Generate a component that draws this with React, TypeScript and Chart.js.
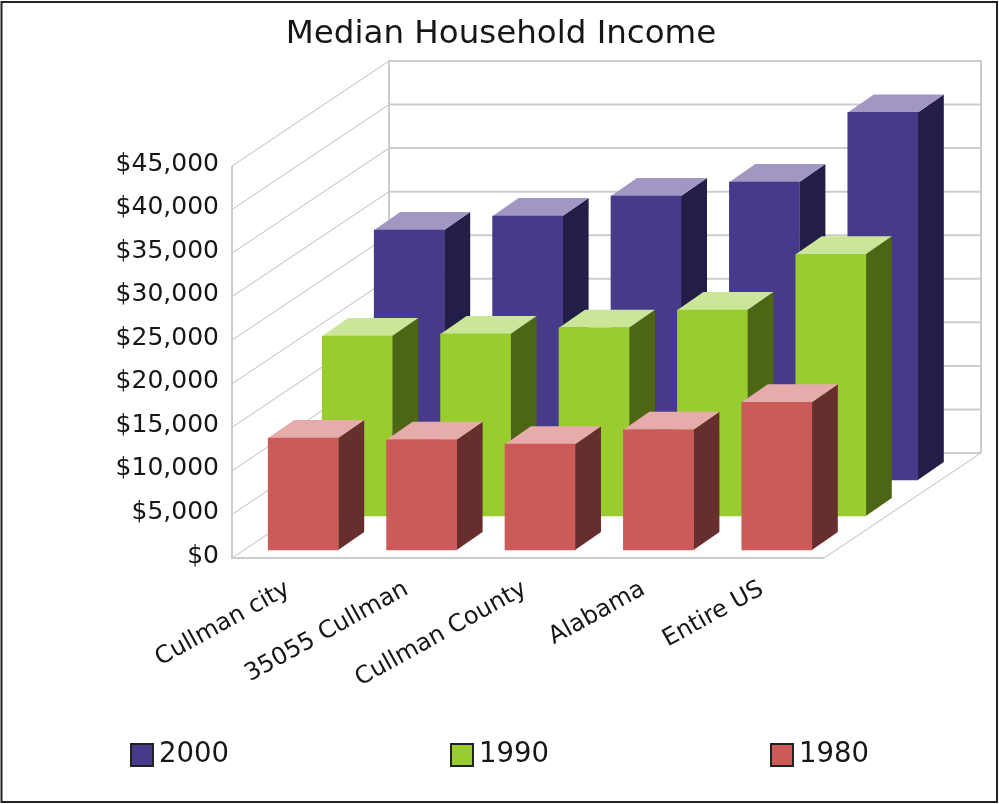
import React, { useEffect, useRef } from "react";
import { Chart, registerables } from "chart.js";

Chart.register(...registerables);

const categories = ["Cullman city", "35055 Cullman", "Cullman County", "Alabama", "Entire US"];
const series2000 = [28700, 30300, 32600, 34200, 42200];
const series1990 = [20650, 20900, 21600, 23650, 30050];
const series1980 = [12850, 12650, 12150, 13800, 16950];
const seriesLabels = ["2000", "1990", "1980"];

const FONT = "'DejaVu Sans', sans-serif";
const TEXT = "#161616";
const WALL = "#cccccc";

// style per series: front, side and top colours, depth shift of the row
const looks = [
  { front: "#483A8B", side: "#231E48", top: "#A197C2", dx: 118, dy: -78 },
  { front: "#99CC2E", side: "#4D6614", top: "#CCE699", dx: 66, dy: -42 },
  { front: "#CC5A58", side: "#662E2C", top: "#E6ACAC", dx: 12, dy: -8 },
];
const BAR_DX = 26;
const BAR_DY = -18;
const WALL_DX = 157;
const WALL_DY = -105;
const legendBoxX = [131, 451, 771];

const threeD = {
  id: "threeD",
  afterLayout(chart: any) {
    // the title is centred on the whole picture, not on the front plane
    chart.titleBlock.left = 0;
    chart.titleBlock.right = 1002;
  },
  beforeDraw(chart: any) {
    const { ctx, width, height } = chart;
    ctx.save();
    ctx.strokeStyle = "#222222";
    ctx.lineWidth = 2;
    ctx.strokeRect(1.5, 2, width - 3.5, height - 4);
    ctx.restore();
  },
  beforeDatasetsDraw(chart: any) {
    const { ctx, chartArea: a, scales } = chart;
    const y = scales.y;
    ctx.save();
    // grid lines follow the y scale
    y.ticks.forEach((t: any) => {
      const py = y.getPixelForValue(t.value);
      ctx.beginPath();
      ctx.strokeStyle = "#bdbdbd";
      ctx.lineWidth = 1;
      ctx.moveTo(a.left, py);
      ctx.lineTo(a.left + WALL_DX, py + WALL_DY);
      ctx.stroke();
      ctx.beginPath();
      ctx.strokeStyle = WALL;
      ctx.lineWidth = 2;
      ctx.moveTo(a.left + WALL_DX, py + WALL_DY);
      ctx.lineTo(a.right + WALL_DX, py + WALL_DY);
      ctx.stroke();
    });
    // floor diagonal on the right
    ctx.beginPath();
    ctx.strokeStyle = "#bdbdbd";
    ctx.lineWidth = 1;
    ctx.moveTo(a.right, a.bottom);
    ctx.lineTo(a.right + WALL_DX, a.bottom + WALL_DY);
    ctx.stroke();
    // walls outline
    ctx.strokeStyle = WALL;
    ctx.lineWidth = 2;
    ctx.beginPath();
    ctx.moveTo(a.left, a.top);
    ctx.lineTo(a.left, a.bottom);
    ctx.lineTo(a.right, a.bottom);
    ctx.stroke();
    ctx.beginPath();
    ctx.moveTo(a.left + WALL_DX, a.bottom + WALL_DY);
    ctx.lineTo(a.left + WALL_DX, a.top + WALL_DY);
    ctx.lineTo(a.right + WALL_DX, a.top + WALL_DY);
    ctx.lineTo(a.right + WALL_DX, a.bottom + WALL_DY);
    ctx.stroke();
    ctx.restore();
  },
  beforeDatasetDraw(chart: any, args: any) {
    const { ctx } = chart;
    const look = looks[args.index];
    ctx.save();
    ctx.translate(look.dx, look.dy);
    args.meta.data.forEach((bar: any) => {
      const l = bar.x - bar.width / 2;
      const r = bar.x + bar.width / 2;
      ctx.fillStyle = look.side;
      ctx.beginPath();
      ctx.moveTo(r, bar.base);
      ctx.lineTo(r + BAR_DX, bar.base + BAR_DY);
      ctx.lineTo(r + BAR_DX, bar.y + BAR_DY);
      ctx.lineTo(r, bar.y);
      ctx.closePath();
      ctx.fill();
      ctx.fillStyle = look.top;
      ctx.beginPath();
      ctx.moveTo(l, bar.y);
      ctx.lineTo(l + BAR_DX, bar.y + BAR_DY);
      ctx.lineTo(r + BAR_DX, bar.y + BAR_DY);
      ctx.lineTo(r, bar.y);
      ctx.closePath();
      ctx.fill();
    });
  },
  afterDatasetDraw(chart: any) {
    chart.ctx.restore();
  },
  afterDraw(chart: any) {
    const { ctx } = chart;
    ctx.save();
    ctx.font = `27.5px ${FONT}`;
    ctx.textBaseline = "middle";
    ctx.textAlign = "left";
    chart.data.datasets.forEach((d: any, i: number) => {
      const x = legendBoxX[i];
      ctx.fillStyle = d.backgroundColor;
      ctx.strokeStyle = "#222222";
      ctx.lineWidth = 2;
      ctx.fillRect(x, 744, 22, 22);
      ctx.strokeRect(x, 744, 22, 22);
      ctx.fillStyle = TEXT;
      ctx.fillText(d.label, x + 28, 755);
    });
    ctx.restore();
  },
};

export default function App() {
  const ref = useRef<HTMLCanvasElement>(null);
  useEffect(() => {
    const chart = new Chart(ref.current as HTMLCanvasElement, {
      type: "bar",
      data: {
        labels: categories,
        datasets: [series2000, series1990, series1980].map((values, i) => ({
          label: seriesLabels[i],
          data: values,
          backgroundColor: looks[i].front,
          borderWidth: 0,
          barThickness: 70,
          grouped: false,
          clip: false,
          order: 2 - i,
        })) as any,
      },
      options: {
        animation: false,
        responsive: false,
        events: [],
        layout: { padding: { left: 0, right: 175, top: 0, bottom: 0 } },
        plugins: {
          legend: { display: false },
          tooltip: { enabled: false },
          title: {
            display: true,
            text: "Median Household Income",
            color: TEXT,
            font: { family: FONT, size: 32.5, weight: "normal" },
            padding: { top: 15, bottom: 112 },
          },
        },
        scales: {
          x: {
            grid: { display: false, drawTicks: false },
            border: { display: false },
            afterFit: (s: any) => {
              s.height = 246;
            },
            ticks: {
              color: TEXT,
              font: { family: FONT, size: 24 },
              minRotation: 29,
              maxRotation: 29,
              autoSkip: false,
              padding: 17,
              labelOffset: -3,
            },
          },
          y: {
            min: 0,
            max: 45000,
            grid: { display: false, drawTicks: false },
            border: { display: false },
            afterFit: (s: any) => {
              s.width = 232;
            },
            ticks: {
              stepSize: 5000,
              color: TEXT,
              font: { family: FONT, size: 25 },
              padding: 13,
              labelOffset: -2,
              callback: (v: any) => "$" + Number(v).toLocaleString("en-US"),
            },
          },
        },
      },
      plugins: [threeD],
    } as any);
    return () => chart.destroy();
  }, []);
  return (
    <div style={{ position: "fixed", left: 0, top: 0, width: 999, height: 804, background: "#fff" }}>
      <canvas ref={ref} width={999} height={804} style={{ display: "block", filter: "blur(0.4px)" }} />
    </div>
  );
}
